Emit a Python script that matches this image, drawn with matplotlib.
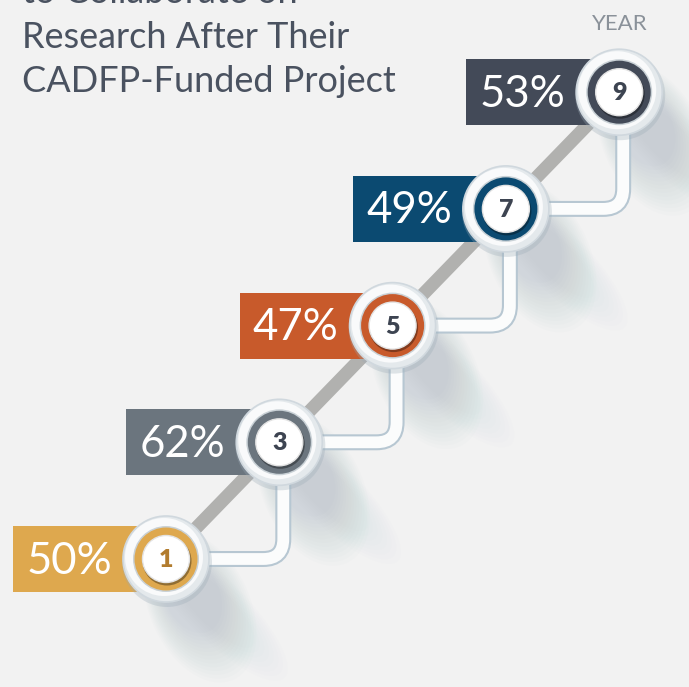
import matplotlib.pyplot as plt
from matplotlib.patches import Circle, Rectangle, Ellipse, PathPatch
from matplotlib.path import Path

years = [1, 3, 5, 7, 9]
pct = [50, 62, 47, 49, 53]
colors = ["#dea84e", "#6b757e", "#c85a2b", "#0b4a71", "#434a58"]
title_lines = ["to Collaborate on", "Research After Their", "CADFP-Funded Project"]

bg = "#f2f2f2"
fig = plt.figure(figsize=(6.89, 6.87), dpi=100, facecolor=bg)
ax = fig.add_axes([0, 0, 1, 1])
ax.set_xlim(0, 689)
ax.set_ylim(687, 0)
ax.set_aspect("equal")
ax.axis("off")
ax.set_facecolor(bg)


# posicion de cada circulo segun el año
def pos(year):
    step = (year - 1) / 2
    return 166 + step * 113.3, 559 - step * 116.7


centers = [pos(y) for y in years]

# sombras suaves
for cx, cy in centers:
    n = 14
    for k in range(n):
        f = k / (n - 1)
        ax.add_patch(Ellipse((cx + 34 - 8 * f, cy + 48 - 12 * f), 160 - 80 * f, 100 - 45 * f,
                             angle=65, color="#8ea7b8", alpha=0.024, lw=0, zorder=1))
    for k in range(8):
        f = k / 7
        ax.add_patch(Ellipse((cx + 48, cy + 48), 200 - 90 * f, 60 - 25 * f,
                             angle=45, color="#a9bccb", alpha=0.018, lw=0, zorder=1))

# conectores
for i in range(len(centers) - 1):
    x0, y0 = centers[i]
    x1, y1 = centers[i + 1]
    vx = x1 + 4
    r = 20
    verts = [(vx, y1), (vx, y0 - r), (vx, y0), (vx - r, y0), (x0, y0)]
    codes = [Path.MOVETO, Path.LINETO, Path.CURVE3, Path.CURVE3, Path.LINETO]
    p = Path(verts, codes)
    ax.add_patch(PathPatch(p, fill=False, lw=11.5, edgecolor="#b7c7d2", capstyle="butt", zorder=2))
    ax.add_patch(PathPatch(p, fill=False, lw=8.5, edgecolor="#fbfcfc", capstyle="butt", zorder=2.1))

# linea diagonal
ax.plot([centers[0][0], centers[-1][0]], [centers[0][1], centers[-1][1]],
        color="#b1b1af", lw=9.5, solid_capstyle="butt", zorder=3)

for (cx, cy), y, p_, c in zip(centers, years, pct, colors):
    ax.add_patch(Rectangle((cx - 153, cy - 33), 153, 66, color=c, lw=0, zorder=4))
    ax.text(cx - 97, cy + 2, f"{p_}%", color="white", fontsize=31.5, family="Lato",
            ha="center", va="center", zorder=6)
    ax.add_patch(Circle((cx + 1, cy + 3), 45, color="#9aaab6", alpha=0.3, lw=0, zorder=4.5))
    ax.add_patch(Circle((cx, cy), 43, facecolor="#e4e9ec", edgecolor="#d0d8de", lw=1.2, zorder=5))
    ax.add_patch(Circle((cx - 2, cy - 2), 39, facecolor="#f9fafb", lw=0, zorder=5.1))
    ax.add_patch(Circle((cx, cy), 33, color="#c9d1d6", lw=0, zorder=5.15))
    ax.add_patch(Circle((cx, cy), 31.5, color=c, lw=0, zorder=5.2))
    ax.add_patch(Circle((cx + 1, cy + 2), 24.5, color="black", alpha=0.35, lw=0, zorder=5.3))
    ax.add_patch(Circle((cx, cy), 23.5, facecolor="white", edgecolor="#e3e3e3", lw=1, zorder=5.4))
    tc = "#b27c2e" if y == 1 else "#3d4451"
    ax.text(cx, cy + 1, str(y), color=tc, fontsize=18, fontweight="heavy", family="Lato",
            ha="center", va="center", zorder=6)

# titulo
for i, line in enumerate(title_lines):
    ax.text(22, 3 + i * 44.5, line, color="#4a5260", fontsize=26, family="Lato",
            ha="left", va="baseline", zorder=6)

ax.text(620, 30, "YEAR", color="#8a9199", fontsize=16, family="Lato",
        ha="center", va="baseline", zorder=6)

fig.savefig("out.png", dpi=100, facecolor=bg)
